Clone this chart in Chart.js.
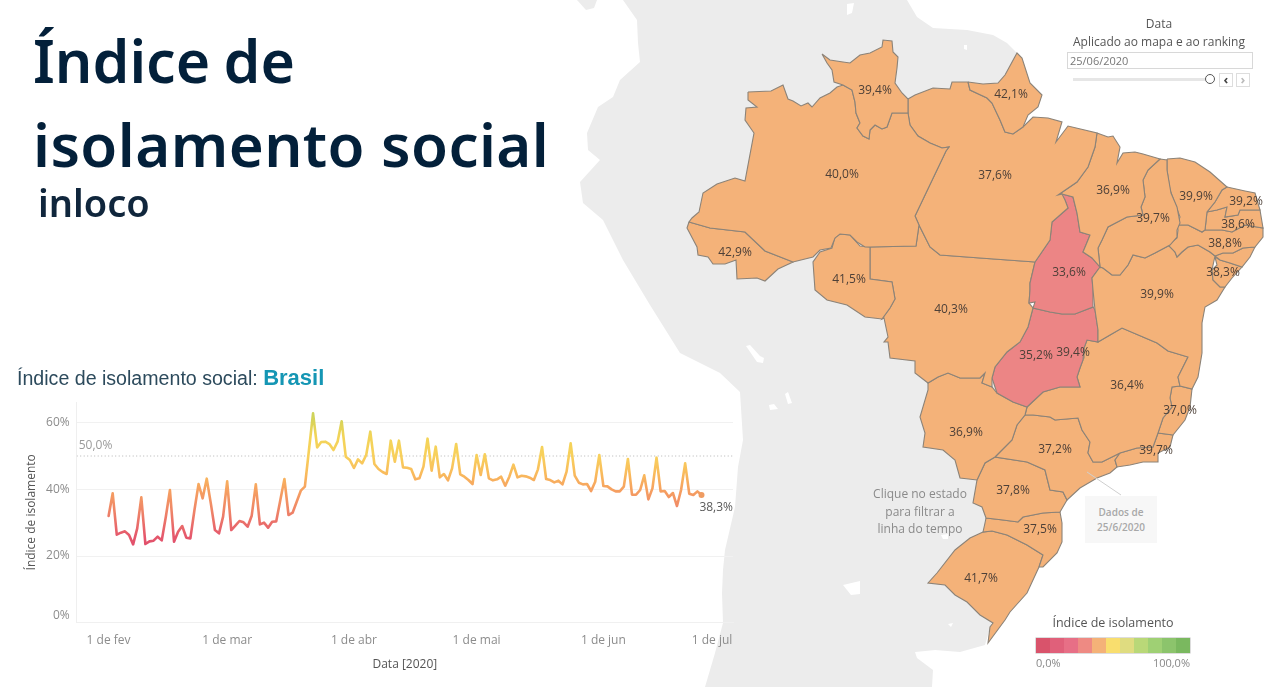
<!DOCTYPE html>
<html lang="pt">
<head>
<meta charset="utf-8">
<title>Índice de isolamento social</title>
<script src="https://cdn.jsdelivr.net/npm/chart.js@4"></script>
<style>
html,body{margin:0;padding:0;background:#fff;width:1280px;height:687px;overflow:hidden}
body{position:relative;font-family:"Open Sans",sans-serif}
canvas{position:absolute;display:block}
.t{position:absolute;white-space:nowrap}
</style>
</head>
<body>
<canvas id="map" width="1280" height="687" style="left:0;top:0;width:1280px;height:687px"></canvas>
<canvas id="line" width="745" height="292" style="left:0;top:395px;width:745px;height:292px"></canvas>

<div class="t" style="left:33px;top:18px;font:600 59px/84px 'Noto Sans';word-spacing:-2px;color:#03203a">Índice de</div>
<div class="t" style="left:33px;top:102px;font:600 60px/84px 'Noto Sans';letter-spacing:.4px;color:#03203a">isolamento social</div>
<div class="t" style="left:38px;top:174px;font:600 38px/56px 'Noto Sans';color:#10263c">inloco</div>
<div class="t" style="left:17px;top:365px;font:19.6px/26px 'Liberation Sans';color:#2c4a5c">Índice de isolamento social: <b style="color:#1596b4;font-size:22px">Brasil</b></div>

<div class="t" style="left:1059px;width:200px;top:15px;text-align:center;font-size:12px;line-height:17px;color:#555">Data</div>
<div class="t" style="left:1059px;width:200px;top:33px;text-align:center;font-size:12px;line-height:17px;color:#555">Aplicado ao mapa e ao ranking</div>
<div class="t" style="left:1067px;top:52px;width:182px;height:15px;border:1px solid #d8d8d8;font-size:11px;line-height:15px;color:#777;padding-left:2px;box-sizing:content-box">25/06/2020</div>
<div class="t" style="left:1073px;top:78px;width:135px;height:3px;background:#e6e6e6"></div>
<div class="t" style="left:1205px;top:74px;width:8px;height:8px;border:1px solid #555;border-radius:50%;background:#fff"></div>
<div class="t" style="left:1219px;top:73px;width:12px;height:12px;border:1px solid #ddd;text-align:center;font:bold 13px/11px 'Open Sans';color:#444">‹</div>
<div class="t" style="left:1236px;top:73px;width:12px;height:12px;border:1px solid #ddd;text-align:center;font:bold 13px/11px 'Open Sans';color:#bbb">›</div>

<div class="t" style="left:850px;width:140px;top:485px;text-align:center;font-size:12px;line-height:17.5px;color:#8a8a8a">Clique no estado<br>para filtrar a<br>linha do tempo</div>
<div class="t" style="left:1085px;top:496px;width:72px;height:47px;background:#f7f7f7;text-align:center;font:600 10px/14.5px 'Open Sans';color:#a8a8a8;padding-top:9px;box-sizing:border-box">Dados de<br>25/6/2020</div>

<div class="t" style="left:1013px;width:200px;top:614px;text-align:center;font-size:12.5px;line-height:18px;color:#555">Índice de isolamento</div>
<div id="legend" class="t" style="left:1036px;top:638px;width:154px;height:15px;display:flex;box-shadow:0 0 0 .5px #bbb"></div>
<div class="t" style="left:1036px;top:655px;font-size:11px;line-height:15px;color:#888">0,0%</div>
<div class="t" style="right:90px;top:655px;font-size:11px;line-height:15px;color:#888">100,0%</div>

<script>
// ---- time series ----
const tickDays = [0, 29, 60, 90, 121, 151];
const tickLabels = ['1 de fev', '1 de mar', '1 de abr', '1 de mai', '1 de jun', '1 de jul'];
const isolationValues = [
 32.0,38.8,26.4,27.0,27.4,26.3,23.5,28.3,37.6,23.6,24.4,24.6,25.8,24.7,31.8,39.8,24.3,27.3,29.0,25.5,
 25.3,33.8,41.6,37.3,43.2,35.8,27.8,26.8,31.8,42.4,27.8,29.1,30.5,30.1,28.8,32.1,41.5,29.5,30.0,28.5,
 30.3,30.4,36.8,43.1,32.3,33.0,36.3,39.6,40.8,51.8,62.8,52.6,54.2,54.3,53.6,51.8,54.3,60.4,49.8,48.8,
 46.4,49.0,47.8,50.3,57.3,47.6,46.1,45.2,44.6,54.6,48.3,54.6,46.6,46.5,46.1,43.0,43.3,46.8,55.2,45.6,
 52.8,43.6,44.6,42.7,46.3,53.6,44.5,43.8,42.8,41.6,50.3,44.3,50.5,43.3,42.7,43.0,43.8,41.1,43.8,47.4,
 43.6,44.1,43.9,43.5,42.8,46.0,52.7,43.1,42.8,42.1,42.6,41.5,45.3,53.8,44.1,42.0,41.5,41.6,39.5,42.3,
 50.3,41.0,40.9,40.0,39.4,39.4,40.8,49.1,38.4,38.4,39.8,44.2,37.0,40.3,49.5,39.4,39.5,37.7,38.9,35.0,
 39.8,47.8,38.7,38.3,39.4,38.3];
const referenceValue = 50;
const yTicks = [0, 20, 40, 60];
const lineStops = [[62,'#cfd35a'],[56,'#f2d458'],[50,'#f8d05c'],[45,'#f9bc5c'],[40,'#f6a160'],[33,'#ee8268'],[26,'#e5586c'],[23,'#e04e6b']];

// ---- map values ----
const stateNames = ['RR','AP','AM','PA','MA','CE','PI','RN','PB','PE','AL','TO','BA','MT','AC','RO','GO','DF','MG','ES','RJ','MS','SP','PR','SC','RS','SE'];
const stateValues = ['39,4%','42,1%','40,0%','37,6%','36,9%','39,9%','39,7%','39,2%','38,6%','38,8%','38,3%','33,6%','39,9%','40,3%','42,9%','41,5%','35,2%','39,4%','36,4%','37,0%','39,7%','36,9%','37,2%','37,8%','37,5%','41,7%',''];
const labelX = [875,1011,842,995,1113,1196,1153,1246,1238,1225,1223,1069,1157,951,735,849,1036,1073,1127,1180,1156,966,1055,1013,1040,981,0];
const labelY = [91,95,175,176,191,197,219,202,225,244,273,273,295,310,253,280,356,353,386,411,451,433,450,491,530,579,0];
const lowStates = ['TO','GO'];
const legendColors = ['#d9536b','#e0607a','#e76f86','#ee8a83','#f4b278','#f9de6e','#dfdc80','#b9d878','#9fd074','#8cc46c','#7ab85f'];

// ---- map geometry (map units) ----
const land = [[623,0],[637,20],[638,43],[640,62],[620,80],[613,97],[598,107],[587,133],[588,150],[600,160],[580,182],[583,203],[603,220],[623,260],[650,305],[680,353],[720,373],[740,392],[743,440],[738,467],[735,507],[725,550],[723,570],[722,593],[723,623],[715,653],[705,687],[932,687],[933,670],[917,658],[915,652],[935,650],[960,652],[985,645],[1010,560],[1010,200],[1017,53],[1007,43],[993,35],[967,30],[933,28],[917,17],[907,0]];
const islandNW = [[577,0],[597,0],[594,8],[586,10]];
const holes = [
 [[847,4],[854,3],[852,13],[847,15]],
 [[964,45],[967,45],[967,50],[964,49]],
 [[746,346],[750,345],[760,356],[764,358],[763,363],[757,362]],
 [[785,394],[788,392],[792,403],[788,404]],
 [[769,405],[774,404],[778,409],[770,410]],
 [[843,585],[860,581],[860,594],[851,595]],
 [[941,535],[948,534],[948,539],[943,539]],
 [[948,624],[953,623],[951,627]]
];
const RR=[[822,54],[830,60],[843,62],[850,63],[860,55],[870,53],[882,47],[883,40],[892,41],[893,52],[898,57],[897,68],[895,83],[902,93],[908,99],[908,113],[892,113],[887,127],[882,129],[875,125],[870,130],[869,139],[863,136],[857,128],[860,123],[856,113],[855,102],[852,90],[843,85],[834,82],[832,70],[827,63]];
const AM=[[748,92],[771,91],[783,85],[788,99],[793,101],[801,106],[808,103],[812,107],[820,98],[830,93],[837,87],[843,85],[852,90],[855,102],[856,113],[860,123],[857,128],[863,136],[869,139],[870,130],[875,125],[882,129],[887,127],[892,113],[908,113],[910,125],[918,136],[930,143],[942,148],[949,147],[946,151],[915,216],[919,225],[916,246],[870,247],[865,247],[857,242],[850,235],[840,234],[835,238],[831,248],[820,250],[813,257],[793,262],[765,251],[745,232],[710,228],[689,222],[692,218],[699,212],[703,193],[717,184],[735,178],[745,181],[754,133],[745,120],[746,108],[757,107],[748,100]];
const AC=[[689,222],[710,228],[745,232],[765,251],[793,262],[778,269],[765,281],[757,278],[737,279],[736,260],[725,264],[713,264],[708,257],[698,255],[697,247],[687,228]];
const RO=[[870,247],[870,279],[892,282],[895,299],[890,308],[882,319],[865,317],[847,305],[827,300],[815,290],[813,262],[820,252],[832,248],[835,237],[840,234],[850,235],[860,246]];
const AP=[[968,82],[983,84],[998,83],[1005,75],[1017,53],[1022,58],[1030,83],[1042,95],[1038,107],[1028,115],[1023,127],[1013,134],[1005,132],[1000,120],[992,103],[987,98],[970,90]];
const PA=[[908,99],[915,95],[933,88],[950,89],[952,82],[968,82],[970,90],[987,98],[992,103],[1000,120],[1005,132],[1013,134],[1023,127],[1033,117],[1048,118],[1062,122],[1056,142],[1068,126],[1097,133],[1095,147],[1088,167],[1077,182],[1058,195],[1062,194],[1065,200],[1068,208],[1052,222],[1050,240],[1035,262],[980,258],[940,255],[930,247],[919,225],[915,216],[946,151],[949,147],[942,148],[930,143],[918,136],[910,125],[908,113]];
const MA=[[1097,133],[1108,137],[1113,136],[1120,147],[1117,163],[1123,153],[1135,152],[1143,154],[1160,159],[1148,170],[1143,180],[1145,197],[1141,207],[1143,215],[1127,217],[1108,227],[1102,240],[1098,248],[1100,267],[1092,258],[1083,252],[1088,240],[1090,235],[1080,232],[1077,213],[1073,197],[1062,194],[1058,195],[1077,182],[1088,167],[1095,147]];
const PI=[[1160,159],[1167,160],[1167,170],[1171,193],[1177,207],[1180,223],[1177,230],[1177,237],[1170,245],[1155,253],[1145,258],[1133,255],[1128,265],[1120,275],[1112,275],[1103,268],[1100,267],[1098,248],[1102,240],[1108,227],[1127,217],[1143,215],[1141,207],[1145,197],[1143,180],[1148,170]];
const CE=[[1167,159],[1180,158],[1195,162],[1210,172],[1227,187],[1222,190],[1215,202],[1207,212],[1205,230],[1202,232],[1188,225],[1177,225],[1180,217],[1170,190],[1167,170]];
const RN=[[1227,187],[1245,191],[1255,193],[1260,210],[1240,210],[1238,215],[1225,217],[1227,207],[1217,210],[1207,212],[1215,202],[1222,190]];
const PB=[[1207,212],[1217,210],[1227,207],[1225,217],[1238,215],[1240,210],[1260,210],[1263,228],[1245,225],[1232,232],[1222,230],[1205,230]];
const PE=[[1177,225],[1188,225],[1202,232],[1205,230],[1222,230],[1232,232],[1245,225],[1263,228],[1263,237],[1255,247],[1243,248],[1233,253],[1223,253],[1215,256],[1210,252],[1198,245],[1188,247],[1182,252],[1177,257],[1175,252],[1168,245],[1177,238],[1178,230]];
const AL=[[1215,256],[1223,253],[1233,253],[1243,248],[1255,247],[1250,257],[1242,267],[1230,263],[1220,260]];
const SE=[[1215,257],[1220,260],[1230,263],[1242,267],[1232,278],[1225,287],[1220,287],[1213,280],[1212,270],[1217,265]];
const BA=[[1100,267],[1103,268],[1112,275],[1120,275],[1128,265],[1133,255],[1145,258],[1155,253],[1170,245],[1175,252],[1177,257],[1182,252],[1188,247],[1198,245],[1210,252],[1215,256],[1212,270],[1213,280],[1220,287],[1225,287],[1217,300],[1205,307],[1202,323],[1202,353],[1198,377],[1192,389],[1180,386],[1178,377],[1188,357],[1168,351],[1157,343],[1143,337],[1122,328],[1110,335],[1098,342],[1098,330],[1095,310],[1093,290],[1092,278]];
const TO=[[1062,194],[1073,197],[1077,213],[1080,232],[1090,235],[1088,240],[1083,252],[1092,258],[1100,267],[1092,278],[1093,290],[1093,307],[1075,314],[1062,314],[1050,312],[1033,308],[1035,302],[1029,303],[1030,290],[1030,283],[1035,262],[1050,240],[1052,222],[1068,208],[1065,200],[1058,195]];
const MT=[[870,247],[916,246],[919,225],[930,247],[940,255],[980,258],[1035,262],[1030,283],[1030,290],[1029,303],[1033,308],[1028,327],[1020,342],[1007,352],[995,367],[992,378],[992,387],[982,383],[985,373],[980,378],[960,378],[948,373],[938,377],[928,383],[915,373],[915,361],[890,358],[888,342],[884,342],[888,337],[884,318],[882,319],[890,308],[895,299],[892,282],[870,279]];
const GO=[[1033,308],[1050,312],[1062,314],[1075,314],[1093,307],[1095,310],[1098,330],[1098,342],[1087,340],[1084,348],[1083,360],[1080,368],[1077,377],[1080,387],[1060,387],[1043,392],[1027,407],[1013,402],[997,393],[992,378],[995,367],[1007,352],[1020,342],[1028,327]];
const DF=[[1065,348],[1084,347],[1084,358],[1066,359]];
const MS=[[928,383],[938,377],[948,373],[960,378],[980,378],[985,373],[982,383],[992,387],[997,393],[1013,402],[1027,407],[1025,415],[1017,425],[1012,440],[995,457],[985,463],[977,480],[960,478],[955,460],[943,450],[923,447],[925,433],[920,417],[928,390]];
const MG=[[1098,342],[1110,335],[1122,328],[1143,337],[1157,343],[1168,351],[1188,357],[1178,377],[1180,386],[1172,387],[1170,398],[1172,407],[1163,418],[1158,433],[1153,447],[1137,448],[1120,453],[1102,462],[1093,462],[1088,453],[1090,442],[1082,430],[1078,418],[1055,420],[1050,417],[1033,415],[1025,415],[1027,407],[1043,392],[1060,387],[1080,387],[1077,377],[1080,368],[1083,360],[1084,348],[1087,340]];
const ES=[[1172,387],[1180,386],[1192,389],[1190,407],[1185,420],[1173,435],[1158,433],[1163,418],[1172,407],[1170,398]];
const RJ=[[1158,433],[1173,435],[1170,447],[1158,453],[1158,462],[1143,462],[1130,465],[1117,467],[1115,460],[1120,453],[1137,448],[1153,447]];
const SP=[[1025,415],[1033,415],[1050,417],[1055,420],[1078,418],[1082,430],[1090,442],[1088,453],[1093,462],[1102,462],[1120,453],[1115,460],[1117,467],[1110,473],[1097,478],[1080,488],[1067,500],[1063,492],[1050,490],[1045,470],[1027,462],[995,457],[1012,440],[1017,425]];
const PR=[[995,457],[1027,462],[1045,470],[1050,490],[1063,492],[1067,500],[1060,512],[1043,513],[1023,517],[1018,522],[1003,520],[986,518],[982,507],[973,503],[977,480],[985,463]];
const SC=[[986,518],[1003,520],[1018,522],[1023,517],[1043,513],[1060,512],[1062,523],[1062,542],[1057,553],[1043,567],[1039,567],[1043,555],[1027,545],[1007,535],[992,531],[983,532],[985,523]];
const RS=[[983,532],[992,531],[1007,535],[1027,545],[1043,555],[1039,567],[1027,593],[1010,612],[1005,620],[988,643],[990,627],[993,623],[980,615],[967,602],[955,595],[945,585],[928,583],[937,573],[955,550],[970,538]];
const callout = [[1087,472],[1121,495]];
const stateShapes = {RR,AM,AC,RO,AP,PA,MA,PI,CE,RN,PB,PE,AL,SE,BA,TO,MT,GO,DF,MS,MG,ES,RJ,SP,PR,SC,RS};

const toPts = a => a.map(([x,y]) => ({x,y}));
const close = a => a.concat([a[0]]);

// Legend cells
const legendEl = document.getElementById('legend');
legendColors.forEach(c => { const d = document.createElement('div'); d.style.cssText = 'flex:1;background:' + c; legendEl.appendChild(d); });

// Polygon fill through the scale-placed points of each dataset
const polygonFill = {
  id: 'polygonFill',
  beforeDatasetDraw(chart, args) {
    const ds = chart.data.datasets[args.index];
    if (!ds.polyFill) return;
    const c = chart.ctx;
    c.save();
    c.beginPath();
    args.meta.data.forEach((p, i) => i ? c.lineTo(p.x, p.y) : c.moveTo(p.x, p.y));
    c.closePath();
    c.fillStyle = ds.polyFill;
    c.fill();
    c.restore();
  }
};
const stateLabels = {
  id: 'stateLabels',
  afterDatasetsDraw(chart) {
    const c = chart.ctx, sx = chart.scales.x, sy = chart.scales.y;
    c.save();
    c.font = '12px "Open Sans"';
    c.fillStyle = '#4d4038';
    c.textAlign = 'center';
    c.textBaseline = 'middle';
    stateValues.forEach((v, i) => { if (v) c.fillText(v, sx.getPixelForValue(labelX[i]), sy.getPixelForValue(labelY[i])); });
    c.restore();
  }
};
const baseLine = {showLine:true, pointRadius:0, tension:0, fill:false};
const mapSets = [];
mapSets.push({...baseLine, data:toPts(close(land)), polyFill:'#ececec', borderWidth:0, order:100});
mapSets.push({...baseLine, data:toPts(close(islandNW)), polyFill:'#ececec', borderWidth:0, order:99});
holes.forEach(h => mapSets.push({...baseLine, data:toPts(close(h)), polyFill:'#ffffff', borderWidth:0, order:90}));
Object.keys(stateShapes).forEach(k => mapSets.push({...baseLine, data:toPts(close(stateShapes[k])),
  polyFill: lowStates.includes(k) ? '#ec8585' : '#f4b279', borderColor:'#8c8378', borderWidth:1.1, order:5}));
mapSets.push({...baseLine, data:toPts(callout), borderColor:'#cfcfcf', borderWidth:1, order:1});

new Chart(document.getElementById('map'), {
  type: 'scatter',
  data: {datasets: mapSets},
  options: {
    responsive:false, animation:false, events:[],
    layout:{padding:0},
    plugins:{legend:{display:false}, tooltip:{enabled:false}, title:{display:false}},
    scales:{
      x:{type:'linear', min:0, max:1280, display:false},
      y:{type:'linear', min:0, max:687, reverse:true, display:false}
    }
  },
  plugins:[polygonFill, stateLabels]
});

// Line chart
const gradient = ctx => {
  const chart = ctx.chart, y = chart.scales.y;
  if (!y) return '#f6a160';
  const top = y.getPixelForValue(lineStops[0][0]), bot = y.getPixelForValue(lineStops[lineStops.length-1][0]);
  if (!isFinite(top) || !isFinite(bot) || top === bot) return '#f6a160';
  const g = chart.ctx.createLinearGradient(0, top, 0, bot);
  lineStops.forEach(([v, col]) => g.addColorStop((y.getPixelForValue(v) - top) / (bot - top), col));
  return g;
};
const lineNotes = {
  id: 'lineNotes',
  afterDatasetsDraw(chart) {
    const c = chart.ctx, sx = chart.scales.x, sy = chart.scales.y;
    c.save();
    c.font = '12px "Open Sans"';
    c.textBaseline = 'middle';
    c.fillStyle = '#9a9a9a';
    c.textAlign = 'left';
    c.fillText('50,0%', sx.left + 2, sy.getPixelForValue(referenceValue) - 10);
    const last = isolationValues.length - 1;
    c.fillStyle = '#5a5a5a';
    c.textAlign = 'right';
    c.fillText('38,3%', sx.right, sy.getPixelForValue(isolationValues[last]) + 13);
    c.restore();
  }
};
new Chart(document.getElementById('line'), {
  type: 'scatter',
  data: {datasets: [
    {data: isolationValues.map((v,i)=>({x:i,y:v})), showLine:true, tension:0, borderWidth:2.6, borderColor:gradient,
     borderJoinStyle:'round', borderCapStyle:'round',
     pointRadius: c => c.dataIndex === isolationValues.length-1 ? 3 : 0, pointBackgroundColor:'#ef9c62', pointBorderWidth:0, order:1},
    {data:[{x:-7.8,y:referenceValue},{x:152.7,y:referenceValue}], showLine:true, borderColor:'#b4b4b4', borderWidth:1, borderDash:[1,2.5], pointRadius:0, order:2}
  ]},
  options: {
    responsive:false, animation:false, events:[],
    layout:{autoPadding:false, padding:{left:0,right:12,top:7,bottom:0}},
    plugins:{legend:{display:false}, tooltip:{enabled:false}, title:{display:false}},
    scales:{
      x:{type:'linear', min:-7.8, max:152.7,
        afterBuildTicks: s => { s.ticks = tickDays.map(v => ({value:v})); },
        afterFit: s => { s.height = 64.3; s.paddingLeft = 0; s.paddingRight = 0; },
        grid:{display:false}, border:{color:'#f0f0f0'},
        ticks:{autoSkip:false, maxRotation:0, padding:3, color:'#8c8c8c', font:{family:'Open Sans',size:12},
          callback: v => { const i = tickDays.indexOf(v); return i === tickDays.length-1 ? tickLabels[i] + '\u00a0'.repeat(9) : tickLabels[i]; }},
        title:{display:true, text:'Data [2020]', color:'#555', font:{family:'Open Sans',size:12}, padding:{top:0,bottom:15}}
      },
      y:{type:'linear', min:0, max:66.2,
        afterBuildTicks: s => { s.ticks = yTicks.map(v => ({value:v})); },
        afterFit: s => { s.width = 76.7; s.paddingTop = 0; s.paddingBottom = 0; },
        grid:{color:'#f1f1f1', drawTicks:false}, border:{color:'#efefef'},
        ticks:{padding:7, color:'#8c8c8c', font:{family:'Open Sans',size:12},
          callback: v => v === 0 ? ['0%',''] : v + '%'},
        title:{display:true, text:'Índice de isolamento', color:'#555', font:{family:'Open Sans',size:12}, padding:{top:24,bottom:0}}
      }
    }
  },
  plugins:[lineNotes]
});
</script>
</body>
</html>
